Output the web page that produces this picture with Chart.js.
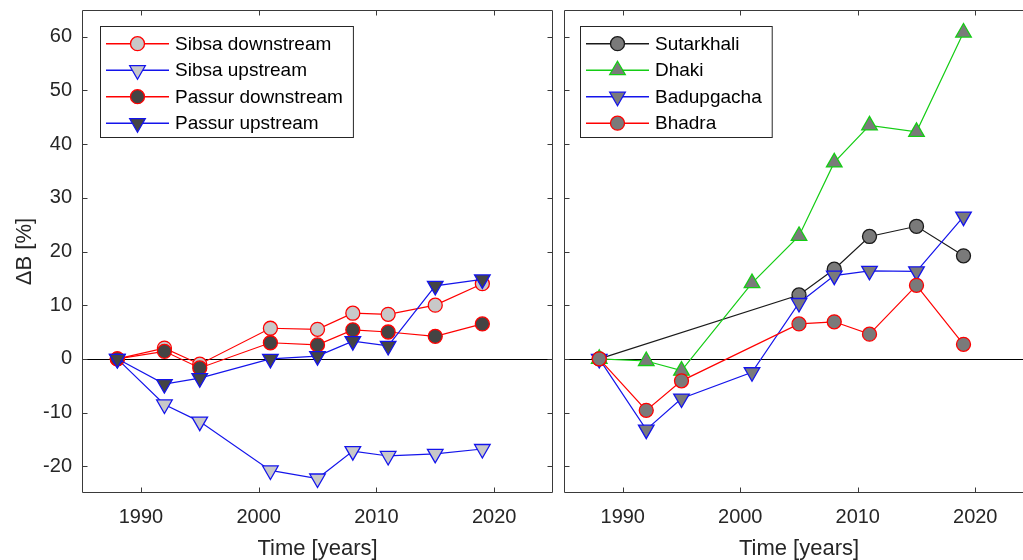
<!DOCTYPE html>
<html>
<head>
<meta charset="utf-8">
<script src="https://cdn.jsdelivr.net/npm/chart.js@4.4.0/dist/chart.umd.min.js"></script>
<style>
  html, body { margin: 0; padding: 0; background: #fff; overflow: hidden; width: 1023px; height: 560px; }
  #leftPanel { position: absolute; left: 0; top: 0; }
  #rightPanel { position: absolute; left: 557px; top: 0; }
</style>
</head>
<body>
<canvas id="leftPanel" width="557" height="560"></canvas>
<canvas id="rightPanel" width="481" height="560"></canvas>
<script>
// Survey years and change in width (ΔB, %) relative to 1988
const riverYears = [1988, 1992, 1995, 2001, 2005, 2008, 2011, 2015, 2019];
const sibsaDownstream = [0, 2.0, -1.0, 5.7, 5.5, 8.5, 8.3, 10.0, 14.0];
const sibsaUpstream = [0, -8.5, -11.7, -20.8, -22.3, -17.2, -18.1, -17.7, -16.8];
const passurDownstream = [0, 1.4, -1.7, 3.0, 2.6, 5.4, 5.0, 4.2, 6.5];
const passurUpstream = [0, -4.7, -3.6, 0.0, 0.5, 3.3, 2.4, 13.6, 14.8];

const sutarkhaliYears = [1988, 2005, 2008, 2011, 2015, 2019];
const sutarkhali = [0, 11.9, 16.7, 22.8, 24.7, 19.2];
const dhakiYears = [1988, 1992, 1995, 2001, 2005, 2008, 2011, 2015, 2019];
const dhaki = [0, -0.4, -2.2, 14.1, 22.9, 36.6, 43.5, 42.3, 60.8];
const badupgachaYears = [1988, 1992, 1995, 2001, 2005, 2008, 2011, 2015, 2019];
const badupgacha = [0, -13.2, -7.4, -2.5, 10.4, 15.5, 16.4, 16.3, 26.5];
const bhadraYears = [1988, 1992, 1995, 2005, 2008, 2011, 2015, 2019];
const bhadra = [0, -9.6, -4.1, 6.5, 6.9, 4.6, 13.7, 2.7];

const xTickValues = [1990, 2000, 2010, 2020];
const yTickValues = [-20, -10, 0, 10, 20, 30, 40, 50, 60];

const FONT = "'Liberation Sans', Arial, Helvetica, sans-serif";
const TEXT = '#262626';
const RED = 'rgb(255,0,0)';
const BLUE = 'rgb(20,20,235)';
const GREEN = 'rgb(20,205,20)';
const BLACK = '#1a1a1a';

function pairs(xs, ys) { return xs.map((x, i) => ({ x: x, y: ys[i] })); }

function series(label, xs, ys, color, fill, shape, order) {
  const tri = shape !== 'circle';
  return {
    label: label,
    data: pairs(xs, ys),
    borderColor: color,
    borderWidth: 1.2,
    backgroundColor: fill,
    pointBackgroundColor: fill,
    pointBorderColor: color,
    pointBorderWidth: 1.3,
    pointStyle: tri ? 'triangle' : 'circle',
    pointRotation: shape === 'down' ? 180 : 0,
    pointRadius: tri ? 9 : 7,
    pointHoverRadius: tri ? 9 : 7,
    tension: 0,
    fill: false,
    order: order
  };
}

// Zero reference line, boxed frame with inward ticks, and a line+marker legend
const framePlugin = {
  id: 'framePlugin',
  beforeDatasetsDraw(chart) {
    const { ctx, chartArea: a, scales } = chart;
    const y0 = Math.round(scales.y.getPixelForValue(0)) + 0.5;
    ctx.save();
    ctx.strokeStyle = '#000';
    ctx.lineWidth = 1.2;
    ctx.beginPath();
    ctx.moveTo(a.left, y0);
    ctx.lineTo(a.right, y0);
    ctx.stroke();
    ctx.restore();
  },
  afterDatasetsDraw(chart) {
    const { ctx, chartArea: a, scales } = chart;
    const L = Math.round(a.left) + 0.5, R = Math.round(a.right) - 0.5;
    const T = Math.round(a.top) + 0.5, B = Math.round(a.bottom) - 0.5;
    ctx.save();
    ctx.strokeStyle = '#3a3a3a';
    ctx.lineWidth = 1;
    ctx.beginPath();
    ctx.rect(L, T, R - L, B - T);
    const len = 5;
    scales.x.ticks.forEach(t => {
      const px = Math.round(scales.x.getPixelForValue(t.value)) + 0.5;
      ctx.moveTo(px, B); ctx.lineTo(px, B - len);
      ctx.moveTo(px, T); ctx.lineTo(px, T + len);
    });
    scales.y.ticks.forEach(t => {
      const py = Math.round(scales.y.getPixelForValue(t.value)) + 0.5;
      ctx.moveTo(L, py); ctx.lineTo(L + len, py);
      ctx.moveTo(R, py); ctx.lineTo(R - len, py);
    });
    ctx.stroke();
    ctx.restore();
  },
  afterDraw(chart, args, opts) {
    const { ctx } = chart;
    const sets = chart.data.datasets;
    ctx.save();
    ctx.font = '19px ' + FONT;
    let maxW = 0;
    sets.forEach(d => { maxW = Math.max(maxW, ctx.measureText(d.label).width); });
    const x0 = opts.x, y0 = opts.y;
    const w = opts.textOffset + maxW + opts.rightPad;
    const h = opts.rowHeight * sets.length + opts.extraHeight;
    ctx.fillStyle = '#fff';
    ctx.fillRect(x0, y0, w, h);
    ctx.strokeStyle = '#262626';
    ctx.lineWidth = 1;
    ctx.strokeRect(x0 + 0.5, y0 + 0.5, w, h);
    sets.forEach((d, i) => {
      const cy = y0 + opts.firstRow + i * opts.rowHeight;
      ctx.strokeStyle = d.borderColor;
      ctx.lineWidth = 1.5;
      ctx.beginPath();
      ctx.moveTo(x0 + 6, cy);
      ctx.lineTo(x0 + 6 + opts.lineLength, cy);
      ctx.stroke();
      ctx.fillStyle = d.pointBackgroundColor;
      ctx.strokeStyle = d.pointBorderColor;
      ctx.lineWidth = d.pointBorderWidth;
      Chart.helpers.drawPoint(ctx, {
        pointStyle: d.pointStyle,
        rotation: d.pointRotation,
        radius: d.pointRadius,
        borderWidth: d.pointBorderWidth
      }, x0 + 6 + opts.lineLength / 2, cy);
      ctx.fillStyle = '#000';
      ctx.textBaseline = 'middle';
      ctx.textAlign = 'left';
      ctx.fillText(d.label, x0 + opts.textOffset, cy + 1);
    });
    ctx.restore();
  }
};

// Fixed axis band sizes so both plot boxes sit at the same place
function fixBand(size, horizontal) {
  return s => {
    if (horizontal) { s.height = size; } else { s.width = size; }
    s.paddingTop = 0; s.paddingBottom = 0; s.paddingLeft = 0; s.paddingRight = 0;
  };
}

function makeOptions(showYLabels, legendPos) {
  return {
    responsive: false,
    animation: false,
    events: [],
    layout: { autoPadding: false, padding: { left: 0, right: 4, top: 10, bottom: 0 } },
    plugins: {
      legend: { display: false },
      tooltip: { enabled: false },
      framePlugin: Object.assign({
        textOffset: 75, rightPad: 10, rowHeight: 26.5, firstRow: 17.7,
        extraHeight: 5, lineLength: 63
      }, legendPos)
    },
    scales: {
      x: {
        type: 'linear',
        min: 1985, max: 2025,
        grid: { display: false, drawTicks: false },
        border: { display: false },
        afterBuildTicks: s => { s.ticks = xTickValues.map(v => ({ value: v })); },
        afterFit: fixBand(67, true),
        ticks: {
          color: TEXT, padding: 12, maxRotation: 0,
          font: { family: FONT, size: 20 },
          callback: v => String(v)
        },
        title: {
          display: true, text: 'Time [years]', color: TEXT,
          font: { family: FONT, size: 22 }, padding: { top: 0, bottom: -2 }
        }
      },
      y: {
        type: 'linear',
        min: -25, max: 65,
        grid: { display: false, drawTicks: false },
        border: { display: false },
        afterBuildTicks: s => { s.ticks = yTickValues.map(v => ({ value: v })); },
        afterFit: fixBand(showYLabels ? 82 : 7, false),
        ticks: {
          display: showYLabels, color: TEXT, padding: 10,
          font: { family: FONT, size: 20 },
          callback: v => String(v)
        },
        title: {
          display: showYLabels, text: 'ΔB [%]', color: TEXT,
          font: { family: FONT, size: 22 }, padding: { top: 12, bottom: 0 }
        }
      }
    }
  };
}

new Chart(document.getElementById('leftPanel'), {
  type: 'line',
  data: {
    datasets: [
      series('Sibsa downstream', riverYears, sibsaDownstream, RED, '#c8c8c8', 'circle', 3),
      series('Sibsa upstream', riverYears, sibsaUpstream, BLUE, '#c8c8c8', 'down', 2),
      series('Passur downstream', riverYears, passurDownstream, RED, '#444444', 'circle', 1),
      series('Passur upstream', riverYears, passurUpstream, BLUE, '#444444', 'down', 0)
    ]
  },
  options: makeOptions(true, { x: 100, y: 26 }),
  plugins: [framePlugin]
});

new Chart(document.getElementById('rightPanel'), {
  type: 'line',
  data: {
    datasets: [
      series('Sutarkhali', sutarkhaliYears, sutarkhali, BLACK, '#7a7a7a', 'circle', 3),
      series('Dhaki', dhakiYears, dhaki, GREEN, '#7a7a7a', 'up', 2),
      series('Badupgacha', badupgachaYears, badupgacha, BLUE, '#7a7a7a', 'down', 1),
      series('Bhadra', bhadraYears, bhadra, RED, '#7a7a7a', 'circle', 0)
    ]
  },
  options: makeOptions(false, { x: 23, y: 26 }),
  plugins: [framePlugin]
});
</script>
</body>
</html>
